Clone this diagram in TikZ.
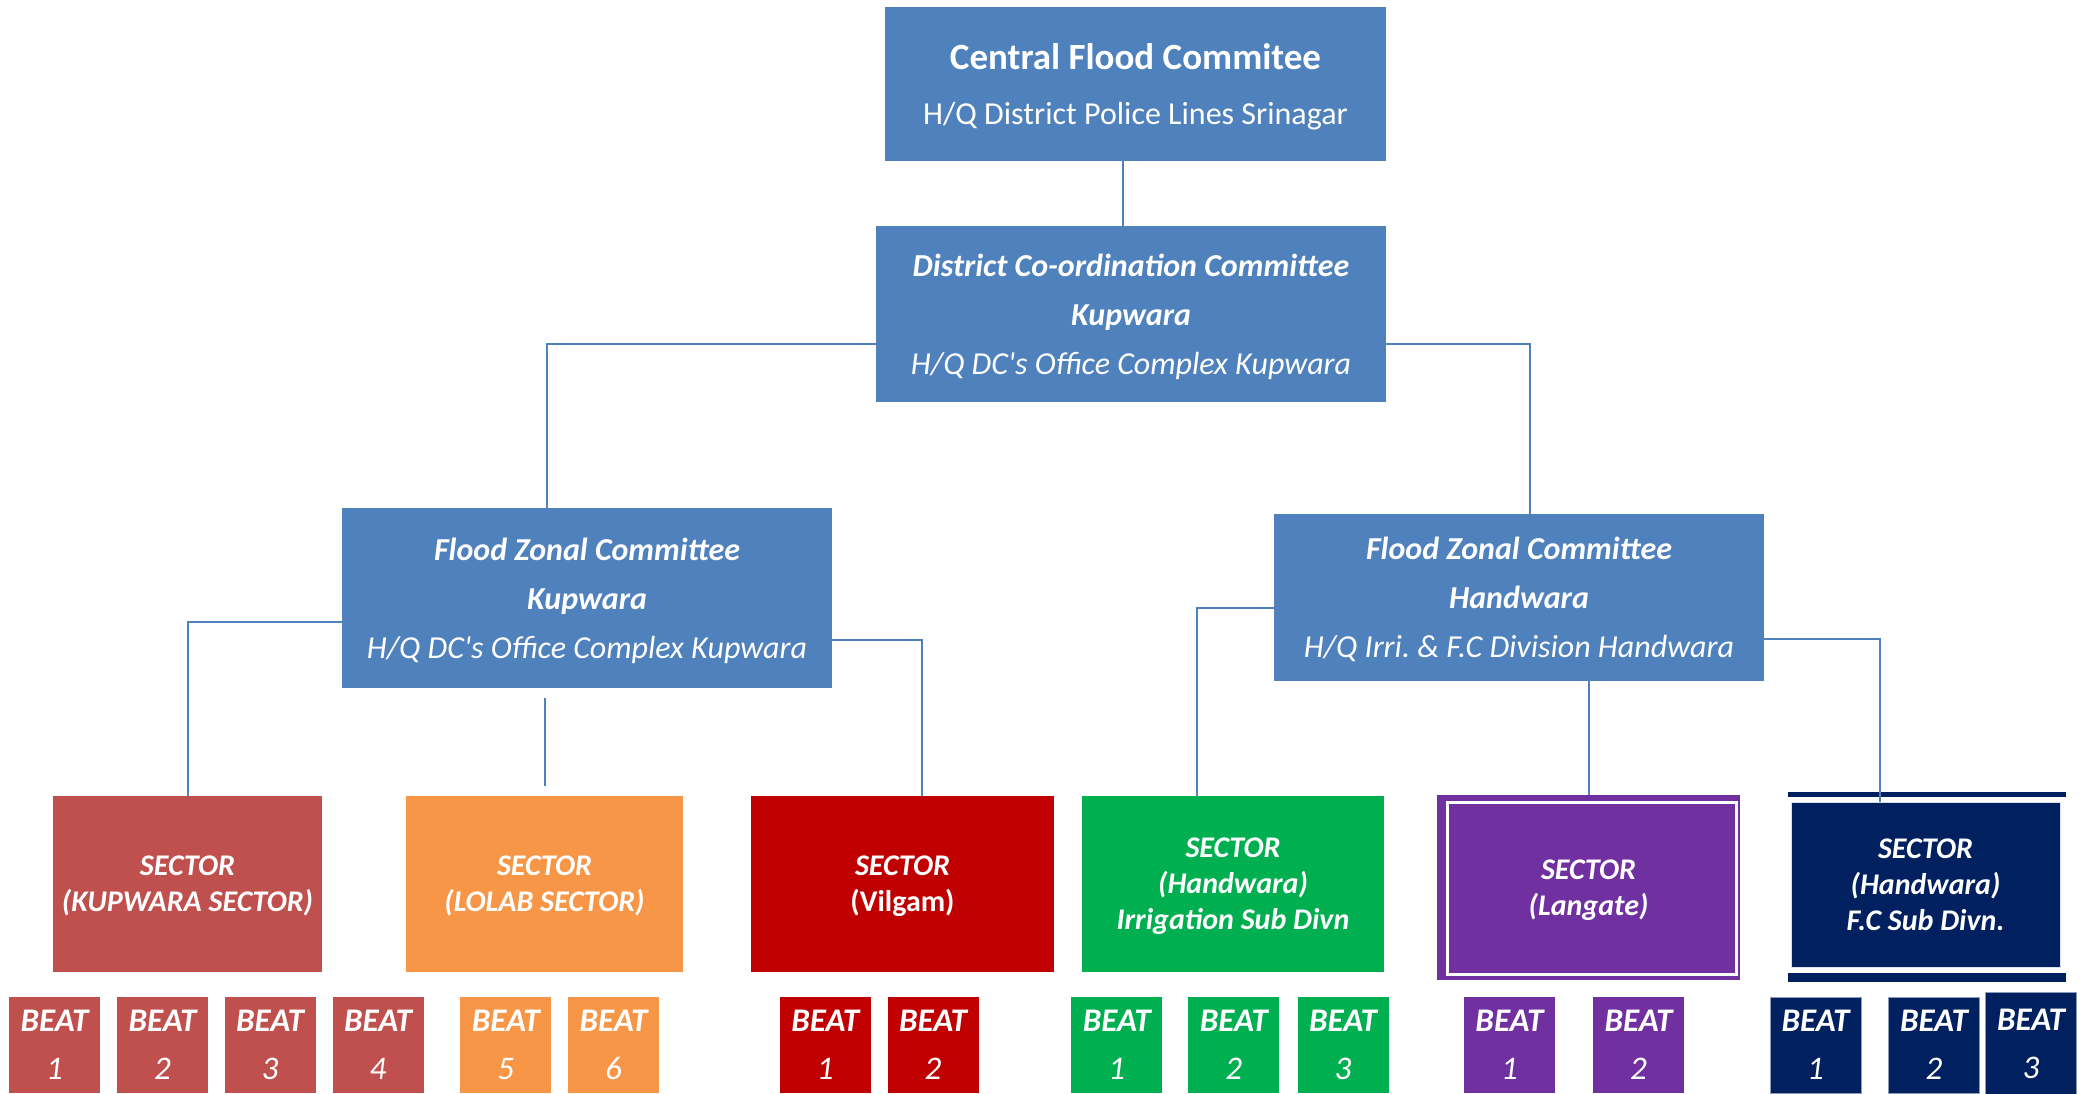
\documentclass[tikz,border=0pt]{standalone}
\usepackage{fontspec}
\setmainfont{Carlito}
\definecolor{azul}{HTML}{4F81BD}
\definecolor{rojok}{HTML}{C0504D}
\definecolor{naranja}{HTML}{F79646}
\definecolor{rojov}{HTML}{C00000}
\definecolor{verde}{HTML}{00B050}
\definecolor{morado}{HTML}{7030A0}
\definecolor{marino}{HTML}{002060}
\frenchspacing
\begin{document}
\begin{tikzpicture}[x=0.5pt,y=-0.5pt,
        comite/.style={fill=azul,text=white,align=center,inner sep=0pt,text depth=0pt,font=\fontsize{16}{24.5}\selectfont\itshape},
        sector/.style={text=white,align=center,inner sep=0pt,text depth=0pt,minimum height=88pt,font=\fontsize{15}{18}\selectfont\bfseries\itshape},
        beat/.style={text=white,align=center,inner sep=0pt,minimum width=45.5pt,minimum height=48pt,font=\fontsize{16.5}{24}\selectfont\itshape},
        link/.style={draw=azul,line width=1pt}]
        \useasboundingbox (0,0) rectangle (2087,1093);
        %Comites
        \node[comite,minimum width=250.5pt,minimum height=77pt,font=\fontsize{16}{27.5}\selectfont] (cfc) at (1135.5,84)
            {{\fontsize{18.5}{27.5}\selectfont\bfseries Central Flood Commitee}\\H/Q District Police Lines Srinagar};
        \node[comite,minimum width=255pt,minimum height=88pt] (dcc) at (1131,314)
            {\textbf{District Co-ordination Committee}\\\textbf{Kupwara}\\H/Q DC\textquotesingle s Office Complex Kupwara};
        \node[comite,minimum width=245pt,minimum height=90pt] (fzk) at (587,598)
            {\textbf{Flood Zonal Committee}\\\textbf{Kupwara}\\H/Q DC\textquotesingle s Office Complex Kupwara};
        \node[comite,minimum width=245pt,minimum height=83.5pt] (fzh) at (1519,597.5)
            {\textbf{Flood Zonal Committee}\\\textbf{Handwara}\\H/Q Irri. \& F.C Division Handwara};
        %Sectores
        \node[sector,fill=rojok,minimum width=134.5pt] (seck) at (187.5,884) {SECTOR\\(KUPWARA SECTOR)};
        \node[sector,fill=naranja,minimum width=138.5pt] (secl) at (544.5,884) {SECTOR\\(LOLAB SECTOR)};
        \node[sector,fill=rojov,minimum width=151.5pt] (secv) at (902.5,884) {SECTOR\\\textup{(Vilgam)}};
        \node[sector,fill=verde,minimum width=151pt] (secg) at (1233,884) {SECTOR\\(Handwara)\\Irrigation Sub Divn};
        \node[sector,fill=morado,minimum width=151.5pt,minimum height=92.5pt] (secp) at (1588.5,887.5) {SECTOR\\(Langate)};
        \draw[white,line width=1.5pt] ([shift={(11,8)}]secp.north west) rectangle ([shift={(-4,-6)}]secp.south east);
        \node[sector,fill=marino,draw=white!85!marino,line width=0.5pt,minimum width=134.5pt,minimum height=82.5pt] (secn) at (1925.5,884.5)
            {SECTOR\\(Handwara)\\F.C Sub Divn.};
        \fill[marino] ([shift={(-3,-9.5)}]secn.north west) rectangle ([shift={(5,-4.5)}]secn.north east);
        \fill[marino] ([shift={(-3,5)}]secn.south west) rectangle ([shift={(5,14)}]secn.south east);
        %Lineas
        \draw[link] ([xshift=-6.25pt]cfc.south) -- ([xshift=-6.25pt]cfc.south |- dcc.north);
        \draw[link] ([yshift=-15pt]dcc.west) -| ([xshift=-20pt]fzk.north);
        \draw[link] ([yshift=-15pt]dcc.east) -| ([xshift=5.5pt]fzh.north);
        \draw[link] ([yshift=-12pt]fzk.west) -| (seck.north);
        \draw[link,shorten <=5pt,shorten >=5pt] (fzk.south -| secl.north) -- (secl.north);
        \draw[link] ([yshift=-21pt]fzk.east) -| ([xshift=9.5pt]secv.north);
        \draw[link] ([yshift=-5pt]fzh.west) -| ([xshift=-18pt]secg.north);
        \draw[link] (fzh.south -| secp.north) -- (secp.north);
        \draw[link] ([yshift=-20.75pt]fzh.east) -| ([xshift=-22.75pt]secn.north);
        %Beats
        \foreach \x/\n in {54.5/1,162.5/2,270/3,378/4}
            \node[beat,fill=rojok] (bk\n) at (\x,1045) {\textbf{BEAT}\\\n};
        \foreach \x/\n in {505.8/5,613.6/6}
            \node[beat,fill=naranja] (bl\n) at (\x,1045) {\textbf{BEAT}\\\n};
        \foreach \x/\n in {825.2/1,933/2}
            \node[beat,fill=rojov] (bv\n) at (\x,1045) {\textbf{BEAT}\\\n};
        \foreach \x/\n in {1116.7/1,1233.8/2,1343/3}
            \node[beat,fill=verde] (bg\n) at (\x,1045) {\textbf{BEAT}\\\n};
        \foreach \x/\n in {1509.4/1,1638.5/2}
            \node[beat,fill=morado] (bp\n) at (\x,1045) {\textbf{BEAT}\\\n};
        \foreach \x/\n in {1815.5/1,1933.9/2}
            \node[beat,fill=marino,draw=marino!45!white,line width=0.5pt] (bn\n) at (\x,1045) {\textbf{BEAT}\\\n};
        \node[beat,fill=marino,draw=marino!45!white,line width=0.5pt,minimum height=51pt] (bn3) at (2031,1043.5) {\textbf{BEAT}\\3};
    \end{tikzpicture}
\end{document}
